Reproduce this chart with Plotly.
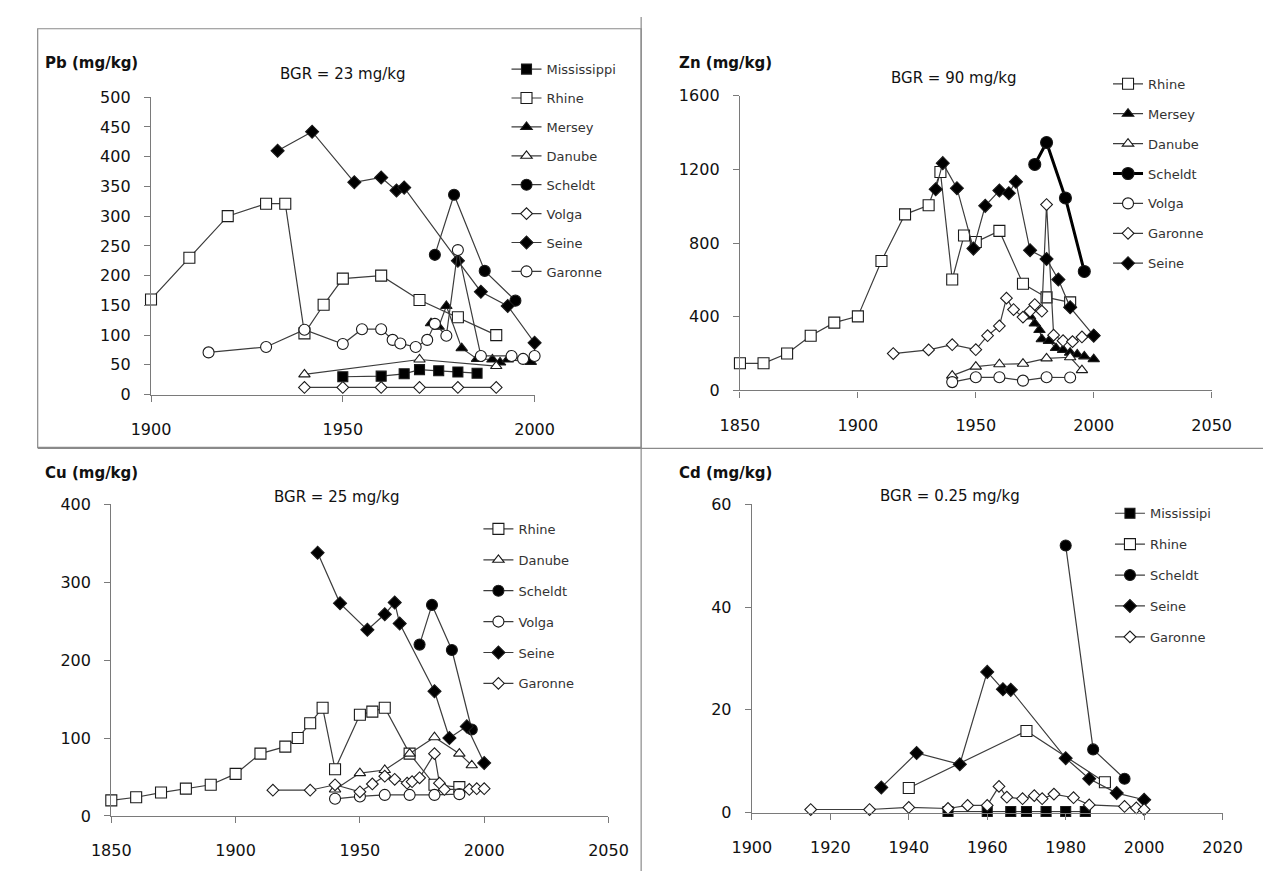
import plotly.graph_objects as go

W, H = 1275, 873

# ---------------- Pb ----------------
pb_miss_x = [1950, 1960, 1966, 1970, 1975, 1980, 1985]
pb_miss_y = [30, 31, 35, 42, 40, 38, 36]
pb_rhine_x = [1900, 1910, 1920, 1930, 1935, 1940, 1945, 1950, 1960, 1970, 1980, 1990]
pb_rhine_y = [160, 230, 300, 321, 321, 103, 151, 195, 200, 159, 130, 100]
pb_mersey_x = [1973, 1975, 1977, 1981, 1985, 1989, 1991, 1993, 1999]
pb_mersey_y = [120, 114, 149, 78, 60, 59, 54, 59, 55]
pb_danube_x = [1940, 1970, 1990]
pb_danube_y = [34, 59, 48]
pb_scheldt_x = [1974, 1979, 1987, 1995]
pb_scheldt_y = [235, 336, 208, 158]
pb_volga_x = [1940, 1950, 1960, 1970, 1980, 1990]
pb_volga_y = [12, 12, 12, 12, 12, 12]
pb_seine_x = [1933, 1942, 1953, 1960, 1964, 1966, 1980, 1986, 1993, 2000]
pb_seine_y = [410, 442, 357, 365, 343, 348, 225, 173, 149, 87]
pb_garonne_x = [1915, 1930, 1940, 1950, 1955, 1960, 1963, 1965, 1969, 1972, 1974, 1977, 1980, 1986, 1994, 1997, 2000]
pb_garonne_y = [71, 80, 109, 85, 110, 110, 92, 86, 80, 92, 119, 99, 243, 65, 65, 60, 65]

# ---------------- Zn ----------------
zn_rhine_x = [1850, 1860, 1870, 1880, 1890, 1900, 1910, 1920, 1930, 1935, 1940, 1945, 1950, 1960, 1970, 1980, 1990]
zn_rhine_y = [147, 147, 200, 297, 368, 402, 703, 956, 1005, 1186, 602, 841, 806, 866, 579, 505, 478]
zn_mersey_x = [1973, 1975, 1977, 1978, 1981, 1984, 1987, 1990, 1993, 1996, 2000]
zn_mersey_y = [402, 363, 328, 278, 269, 230, 220, 205, 195, 185, 170]
zn_danube_x = [1940, 1950, 1960, 1970, 1980, 1990, 1995]
zn_danube_y = [80, 129, 142, 145, 174, 180, 110]
zn_scheldt_x = [1975, 1980, 1988, 1996]
zn_scheldt_y = [1227, 1346, 1045, 646]
zn_volga_x = [1940, 1950, 1960, 1970, 1980, 1990]
zn_volga_y = [45, 71, 71, 53, 71, 70]
zn_garonne_x = [1915, 1930, 1940, 1950, 1955, 1960, 1963, 1966, 1970, 1973, 1975, 1978, 1980, 1983, 1987, 1991, 1995, 2000]
zn_garonne_y = [200, 220, 248, 221, 297, 350, 501, 439, 398, 430, 466, 430, 1009, 300, 270, 265, 290, 300]
zn_seine_x = [1933, 1936, 1942, 1949, 1954, 1960, 1964, 1967, 1973, 1980, 1985, 1990, 2000]
zn_seine_y = [1092, 1234, 1098, 770, 1002, 1085, 1071, 1133, 761, 714, 602, 451, 297]

# ---------------- Cu ----------------
cu_rhine_x = [1850, 1860, 1870, 1880, 1890, 1900, 1910, 1920, 1925, 1930, 1935, 1940, 1950, 1955, 1960, 1970, 1980, 1990]
cu_rhine_y = [20, 24, 30, 35, 40, 54, 80, 89, 100, 119, 139, 60, 130, 134, 139, 80, 40, 37]
cu_danube_x = [1940, 1950, 1960, 1970, 1980, 1990, 1995]
cu_danube_y = [34, 55, 59, 80, 101, 80, 65]
cu_scheldt_x = [1974, 1979, 1987, 1995]
cu_scheldt_y = [220, 271, 213, 111]
cu_volga_x = [1940, 1950, 1960, 1970, 1980, 1990]
cu_volga_y = [22, 25, 27, 27, 27, 28]
cu_seine_x = [1933, 1942, 1953, 1960, 1964, 1966, 1980, 1986, 1993, 2000]
cu_seine_y = [338, 273, 239, 259, 274, 247, 160, 100, 115, 68]
cu_garonne_x = [1915, 1930, 1940, 1950, 1955, 1960, 1964, 1969, 1971, 1974, 1980, 1982, 1984, 1994, 1997, 2000]
cu_garonne_y = [33, 33, 40, 31, 41, 51, 47, 42, 44, 49, 80, 42, 34, 34, 35, 35]

# ---------------- Cd ----------------
cd_miss_x = [1950, 1960, 1966, 1970, 1975, 1980, 1985]
cd_miss_y = [0.2, 0.2, 0.2, 0.2, 0.2, 0.2, 0.2]
cd_rhine_x = [1940, 1970, 1990]
cd_rhine_y = [4.8, 15.9, 5.9]
cd_scheldt_x = [1980, 1987, 1995]
cd_scheldt_y = [52, 12.3, 6.6]
cd_seine_x = [1933, 1942, 1953, 1960, 1964, 1966, 1980, 1986, 1993, 2000]
cd_seine_y = [4.9, 11.6, 9.4, 27.4, 24.0, 23.9, 10.6, 6.6, 3.8, 2.5]
cd_garonne_x = [1915, 1930, 1940, 1950, 1955, 1960, 1963, 1965, 1969, 1972, 1974, 1977, 1982, 1986, 1995, 1998, 2000]
cd_garonne_y = [0.6, 0.6, 1.0, 0.8, 1.4, 1.4, 5.1, 3.0, 2.7, 3.3, 2.7, 3.6, 2.9, 1.5, 1.2, 0.9, 0.6]

LINE = "#3c3c3c"
EDGE = "#1a1a1a"
STYLES = {
    "fsq": dict(symbol="square", size=10, color="black"),
    "osq": dict(symbol="square", size=11, color="white"),
    "ftri": dict(symbol="triangle-up", size=10, color="black"),
    "otri": dict(symbol="triangle-up", size=10, color="white"),
    "fcir": dict(symbol="circle", size=11, color="black"),
    "ocir": dict(symbol="circle", size=11, color="white"),
    "fdia": dict(symbol="diamond", size=10, color="black"),
    "odia": dict(symbol="diamond", size=9, color="white"),
}

fig = go.Figure()
gid = [0]


def add(xs, ys, name, style, ax, leg, lw=1.2):
    gid[0] += 1
    st = STYLES[style]
    fig.add_trace(go.Scatter(
        x=xs, y=ys, name=name, mode="lines+markers",
        xaxis="x" + ax, yaxis="y" + ax, legend=leg,
        legendgroup="g%d" % gid[0], cliponaxis=False,
        line=dict(color=LINE if lw < 2 else "black", width=lw),
        marker=dict(symbol=st["symbol"], size=st["size"] + (1 if lw >= 2 else 0),
                    color=st["color"], line=dict(color=EDGE, width=1.1)),
    ))


# Pb
add(pb_miss_x, pb_miss_y, "Mississippi", "fsq", "", "legend")
add(pb_rhine_x, pb_rhine_y, "Rhine", "osq", "", "legend")
add(pb_mersey_x, pb_mersey_y, "Mersey", "ftri", "", "legend")
add(pb_danube_x, pb_danube_y, "Danube", "otri", "", "legend")
add(pb_scheldt_x, pb_scheldt_y, "Scheldt", "fcir", "", "legend")
add(pb_volga_x, pb_volga_y, "Volga", "odia", "", "legend")
add(pb_seine_x, pb_seine_y, "Seine", "fdia", "", "legend")
add(pb_garonne_x, pb_garonne_y, "Garonne", "ocir", "", "legend")
# Zn
add(zn_rhine_x, zn_rhine_y, "Rhine", "osq", "2", "legend2")
add(zn_mersey_x, zn_mersey_y, "Mersey", "ftri", "2", "legend2")
add(zn_danube_x, zn_danube_y, "Danube", "otri", "2", "legend2")
add(zn_scheldt_x, zn_scheldt_y, "Scheldt", "fcir", "2", "legend2", lw=3)
add(zn_volga_x, zn_volga_y, "Volga", "ocir", "2", "legend2")
add(zn_garonne_x, zn_garonne_y, "Garonne", "odia", "2", "legend2")
add(zn_seine_x, zn_seine_y, "Seine", "fdia", "2", "legend2")
# Cu
add(cu_rhine_x, cu_rhine_y, "Rhine", "osq", "3", "legend3")
add(cu_danube_x, cu_danube_y, "Danube", "otri", "3", "legend3")
add(cu_scheldt_x, cu_scheldt_y, "Scheldt", "fcir", "3", "legend3")
add(cu_volga_x, cu_volga_y, "Volga", "ocir", "3", "legend3")
add(cu_seine_x, cu_seine_y, "Seine", "fdia", "3", "legend3")
add(cu_garonne_x, cu_garonne_y, "Garonne", "odia", "3", "legend3")
# Cd
add(cd_miss_x, cd_miss_y, "Mississipi", "fsq", "4", "legend4")
add(cd_rhine_x, cd_rhine_y, "Rhine", "osq", "4", "legend4")
add(cd_scheldt_x, cd_scheldt_y, "Scheldt", "fcir", "4", "legend4")
add(cd_seine_x, cd_seine_y, "Seine", "fdia", "4", "legend4")
add(cd_garonne_x, cd_garonne_y, "Garonne", "odia", "4", "legend4")


def px(v):
    return v / W


def py(v):
    return 1 - v / H


FAM = "DejaVu Sans, Verdana, sans-serif"
TICKFONT = dict(family=FAM, size=16, color="#111")
AXCOL = "#7a7a7a"


def xax(x0, x1, rng, dt, anchor):
    return dict(domain=[px(x0), px(x1)], range=rng, dtick=dt, tick0=rng[0],
                anchor=anchor, showgrid=False, zeroline=False, showline=True,
                linecolor=AXCOL, linewidth=1.3, ticks="outside", ticklen=6,
                tickcolor=AXCOL, tickwidth=1.3, tickfont=TICKFONT,
                ticklabelstandoff=14, fixedrange=True)


def yax(y0, y1, rng, dt, anchor):
    return dict(domain=[py(y1), py(y0)], range=rng, dtick=dt, tick0=0,
                anchor=anchor, showgrid=False, zeroline=False, showline=True,
                linecolor=AXCOL, linewidth=1.3, ticks="outside", ticklen=6,
                tickcolor=AXCOL, tickwidth=1.3, tickfont=TICKFONT,
                ticklabelstandoff=10, fixedrange=True)


LEGFONT = dict(family=FAM, size=13, color="#333")


def leg(x, y, gap):
    return dict(x=px(x), y=py(y), xanchor="left", yanchor="top",
                bgcolor="rgba(0,0,0,0)", font=LEGFONT, tracegroupgap=gap,
                itemclick=False, itemdoubleclick=False)


fig.update_layout(
    width=W, height=H, margin=dict(l=0, r=0, t=0, b=0),
    paper_bgcolor="white", plot_bgcolor="white", showlegend=True,
    xaxis=xax(127, 523, [1900, 2000], 50, "y"),
    yaxis=yax(82, 386, [0, 500], 50, "x"),
    xaxis2=xax(735, 1222, [1850, 2050], 50, "y2"),
    yaxis2=yax(80.5, 381.7, [0, 1600], 400, "x2"),
    xaxis3=xax(86, 599.3, [1850, 2050], 50, "y3"),
    yaxis3=yax(498.3, 816.7, [0, 400], 100, "x3"),
    xaxis4=xax(747.3, 1233.3, [1900, 2020], 20, "y4"),
    yaxis4=yax(498.3, 813.3, [0, 60], 20, "x4"),
    legend=leg(494, 38, 9),
    legend2=leg(1115, 53, 10),
    legend3=leg(465, 508, 11),
    legend4=leg(1117, 492, 11),
)

TITLEFONT = dict(family=FAM, size=15, color="#111")
LABFONT = dict(family=FAM, size=15, color="#111")
ann = [
    ("Pb (mg/kg)", 16, 47, LABFONT, "left", True),
    ("BGR = 23 mg/kg", 325, 58, TITLEFONT, "center", False),
    ("Zn (mg/kg)", 670, 47, LABFONT, "left", True),
    ("BGR = 90 mg/kg", 955, 62, TITLEFONT, "center", False),
    ("Cu (mg/kg)", 16, 466, LABFONT, "left", True),
    ("BGR = 25 mg/kg", 318, 491, TITLEFONT, "center", False),
    ("Cd (mg/kg)", 670, 466, LABFONT, "left", True),
    ("BGR = 0.25 mg/kg", 952, 490, TITLEFONT, "center", False),
]
for t, x, y, f, xa, bold in ann:
    fig.add_annotation(text=("<b>%s</b>" % t) if bold else t, x=px(x), y=py(y),
                       xref="paper", yref="paper", xanchor=xa, yanchor="middle",
                       showarrow=False, font=f)

FRAME = dict(color="#8a8a8a", width=1.2)
fig.add_shape(type="rect", xref="paper", yref="paper", x0=px(10), x1=px(633),
              y0=py(440), y1=py(12), line=FRAME)
fig.add_shape(type="line", xref="paper", yref="paper", x0=px(633), x1=px(633),
              y0=py(0), y1=py(873), line=FRAME)
fig.add_shape(type="line", xref="paper", yref="paper", x0=px(10), x1=px(1275),
              y0=py(441), y1=py(441), line=FRAME)

fig.write_html("out.html")
